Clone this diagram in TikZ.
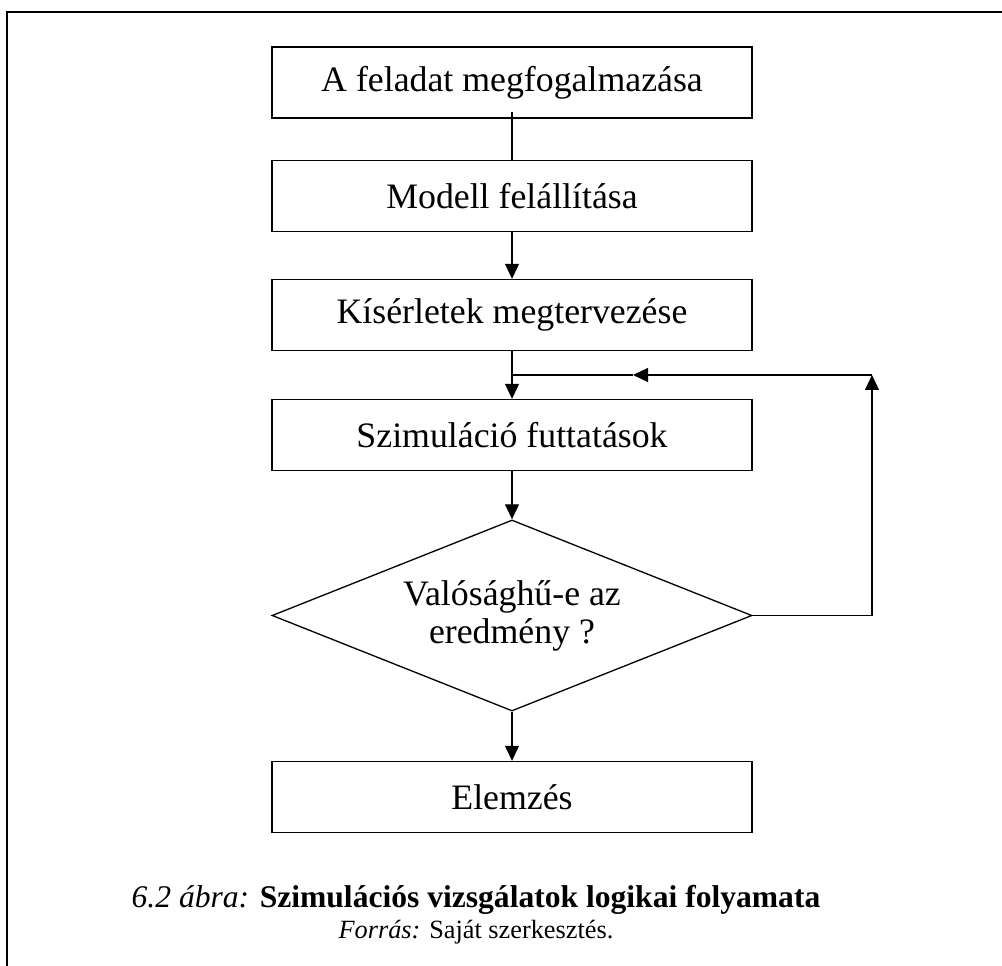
\documentclass[tikz,border=0pt]{standalone}
\usepackage{fontspec}
\setmainfont{Liberation Serif}
\usetikzlibrary{shapes.geometric,arrows.meta}

\begin{document}
\begin{tikzpicture}[x=0.38pt,y=-0.38pt,
  stepbox/.style={draw,line width=0.5pt,minimum width=182.4pt,minimum height=27pt,inner sep=0pt,font=\fontsize{13.6}{15}\selectfont},
  decision/.style={draw,diamond,aspect=2.5,line width=0.5pt,minimum width=182.4pt,minimum height=72.6pt,inner sep=0pt,align=center,font=\fontsize{13.6}{14.4}\selectfont},
  conn/.style={line width=0.5pt},
  arr/.style={line width=0.5pt,-{Triangle[length=5.7pt,width=5.3pt]}}]

\useasboundingbox (0,0) rectangle (1002,966);
\draw[line width=0.8pt] (7,966) -- (7,12) -- (1002,12);

\node[stepbox] (feladat) at (512,82.5){A feladat megfogalmazása};
\node[stepbox] (modell) at (512,196){Modell felállítása};
\node[stepbox] (kiserlet) at (512,315){Kísérletek megtervezése};
\node[stepbox] (futtatas) at (512,435){Szimuláció futtatások};
\node[decision] (check) at (512,615.5){Valósághű-e az\\eredmény ?};
\node[stepbox] (elemzes) at (512,797){Elemzés};

\coordinate (fbR) at (872,615.5);
\coordinate (fbT) at (872,375);
\coordinate (fbM) at (633,375);
\coordinate (fbJ) at (512,375);

\draw[conn,shorten <=-2.7pt] (feladat) -- (modell);
\draw[arr] (modell) -- (kiserlet);
\draw[arr] (kiserlet) -- (futtatas);
\draw[arr] (futtatas) -- (check);
\draw[arr] (check) -- (elemzes);
\draw[arr] (check.east) -- (fbR) -- (fbT);
\draw[arr] (fbT) -- (fbM);
\draw[conn] (fbM) -- (fbJ);

\node[anchor=base,font=\fontsize{12}{14}\selectfont] (caption) at (476,907){\textit{6.2 ábra:} \textbf{Szimulációs vizsgálatok logikai folyamata}};
\node[anchor=base,font=\fontsize{10}{12}\selectfont] (forras) at (476,938){\textit{Forrás:} Saját szerkesztés.};

\end{tikzpicture}
\end{document}
